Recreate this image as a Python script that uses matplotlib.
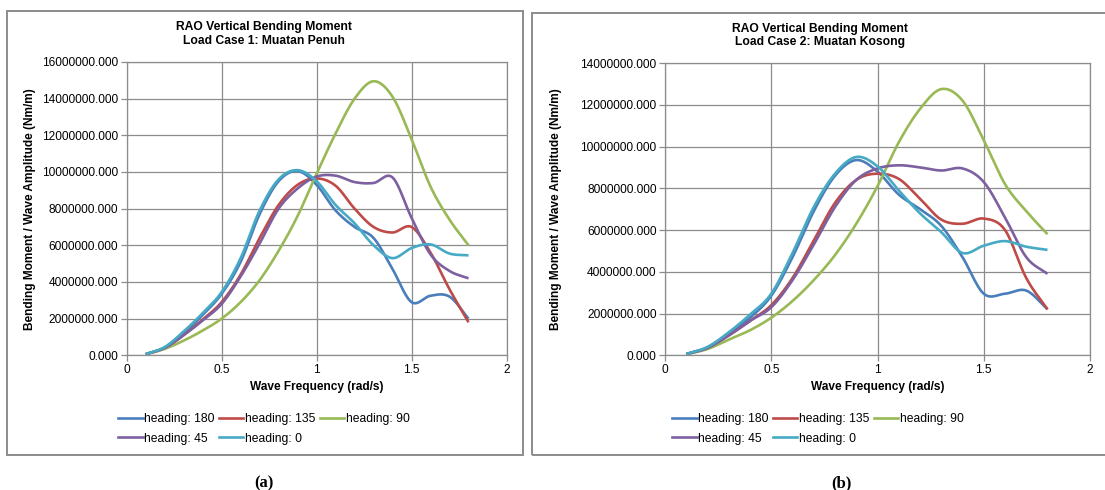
#RAO vertical bending moment, two load cases side by side
import matplotlib.pyplot as plt
from matplotlib.patches import Rectangle
from matplotlib.lines import Line2D
from matplotlib.ticker import FuncFormatter, MultipleLocator
import numpy as np

plt.rcParams['font.family'] = ['Liberation Sans', 'DejaVu Sans']

# wave frequency (rad/s)
freq = [0.1, 0.2, 0.3, 0.4, 0.5, 0.6, 0.7, 0.8, 0.9, 1.0,
        1.1, 1.2, 1.3, 1.4, 1.5, 1.6, 1.7, 1.8]

headings = ['heading: 180', 'heading: 135', 'heading: 90', 'heading: 45', 'heading: 0']
colors = ['#4A7EBB', '#BE4B48', '#98B954', '#7D60A0', '#46AAC5']

# load case 1 (millions Nm/m)
a_180 = [0.06, 0.42, 1.2, 2.2, 3.35, 5.1, 7.7, 9.5, 10.05, 9.3, 7.9, 7.0, 6.4, 4.7, 2.9, 3.25, 3.2, 2.0]
a_135 = [0.06, 0.4, 1.1, 1.95, 2.9, 4.4, 6.4, 8.2, 9.3, 9.65, 9.25, 8.0, 7.0, 6.7, 7.0, 5.6, 3.6, 1.8]
a_90 = [0.05, 0.35, 0.8, 1.35, 2.0, 2.9, 4.1, 5.7, 7.6, 9.9, 12.1, 14.0, 14.95, 14.1, 11.8, 9.2, 7.4, 6.0]
a_45 = [0.06, 0.4, 1.1, 1.9, 2.8, 4.3, 6.1, 8.0, 9.1, 9.75, 9.8, 9.45, 9.4, 9.7, 7.5, 5.5, 4.6, 4.2]
a_0 = [0.06, 0.45, 1.3, 2.3, 3.45, 5.3, 7.9, 9.6, 10.1, 9.5, 8.2, 7.2, 6.0, 5.3, 5.85, 6.05, 5.55, 5.45]

# load case 2 (millions Nm/m)
b_180 = [0.06, 0.38, 1.05, 1.8, 2.85, 4.7, 6.9, 8.6, 9.35, 8.8, 7.7, 7.0, 6.2, 4.7, 2.95, 2.95, 3.1, 2.2]
b_135 = [0.06, 0.36, 0.95, 1.65, 2.4, 3.7, 5.5, 7.3, 8.4, 8.7, 8.45, 7.5, 6.5, 6.3, 6.55, 6.0, 3.7, 2.2]
b_90 = [0.05, 0.3, 0.75, 1.2, 1.8, 2.6, 3.6, 4.8, 6.3, 8.1, 10.2, 11.8, 12.75, 12.2, 10.3, 8.2, 6.9, 5.8]
b_45 = [0.05, 0.35, 0.95, 1.65, 2.3, 3.6, 5.3, 7.1, 8.4, 8.95, 9.1, 9.0, 8.85, 8.95, 8.3, 6.6, 4.7, 3.9]
b_0 = [0.06, 0.4, 1.1, 1.95, 2.95, 4.9, 7.1, 8.7, 9.5, 9.05, 7.9, 6.8, 5.9, 4.9, 5.25, 5.47, 5.2, 5.05]

W, H = 1105, 490
GRAY = '#8c8c8c'


def fx(x):
    return x / W


def fy(y):
    return 1 - y / H


# catmull-rom smoothing, like the excel smoothed line
def smooth(x, y, n=16):
    x = np.asarray(x, float)
    y = np.asarray(y, float)
    px = np.concatenate([[2 * x[0] - x[1]], x, [2 * x[-1] - x[-2]]])
    py = np.concatenate([[2 * y[0] - y[1]], y, [2 * y[-1] - y[-2]]])
    t = np.linspace(0, 1, n, endpoint=False)
    xs, ys = [], []
    for i in range(1, len(px) - 2):
        for p, out in ((px, xs), (py, ys)):
            p0, p1, p2, p3 = p[i - 1], p[i], p[i + 1], p[i + 2]
            out.extend(0.5 * (2 * p1 + (-p0 + p2) * t + (2 * p0 - 5 * p1 + 4 * p2 - p3) * t ** 2
                              + (-p0 + 3 * p1 - 3 * p2 + p3) * t ** 3))
    xs.append(x[-1])
    ys.append(y[-1])
    return np.array(xs), np.array(ys)


# draw one panel
# @param rect axes rect in pixels (left, top, right, bottom)
def panel(fig, rect, series, ymax, title, box, title_xy, legend_xy, tag_xy, tag):
    l, t, r, b = rect
    ax = fig.add_axes([fx(l), fy(b), fx(r - l), (b - t) / H])
    for vals, col in zip(series, colors):
        xs, ys = smooth(freq, vals)
        ax.plot(xs, ys * 1e6, color=col, lw=1.9, solid_capstyle='butt')
    ax.set_xlim(0, 2)
    ax.set_ylim(0, ymax)
    ax.xaxis.set_major_locator(MultipleLocator(0.5))
    ax.yaxis.set_major_locator(MultipleLocator(2e6))
    ax.xaxis.set_major_formatter(FuncFormatter(lambda v, p: '%g' % v))
    ax.yaxis.set_major_formatter(FuncFormatter(lambda v, p: '%.3f' % v))
    ax.grid(True, color=GRAY, lw=0.9)
    ax.set_axisbelow(True)
    for s in ax.spines.values():
        s.set_color(GRAY)
        s.set_linewidth(0.9)
    ax.tick_params(direction='out', length=4, width=0.9, color=GRAY, labelsize=8.6, pad=2)

    ax.set_xlabel('Wave Frequency (rad/s)', fontsize=8.6, fontweight='bold')
    ax.xaxis.set_label_coords(0.5, -(387 - b) / (b - t))
    ax.xaxis.label.set_va('center')
    ax.set_ylabel('Bending Moment / Wave Amplitude (Nm/m)', fontsize=8.6, fontweight='bold')
    ax.yaxis.set_label_coords(-(l - title_xy[2]) / (r - l), 0.5)
    ax.yaxis.label.set_va('center')

    fig.text(fx(title_xy[0]), fy(title_xy[1]), title, ha='center', va='center',
             fontsize=8.7, fontweight='bold', linespacing=1.2)

    # excel-style legend, filled row by row
    order = [0, 3, 1, 4, 2]
    handles = [Line2D([], [], color=colors[i], lw=1.9) for i in order]
    ax.legend(handles, [headings[i] for i in order], loc='center',
              bbox_to_anchor=(fx(legend_xy[0]), fy(legend_xy[1])), bbox_transform=fig.transFigure,
              ncol=3, frameon=False, fontsize=8.7, handlelength=2.0, handletextpad=0.12,
              columnspacing=0.4, labelspacing=0.6, borderpad=0, borderaxespad=0)

    bl, bt, br, bb = box
    fig.add_artist(Rectangle((fx(bl), fy(bb)), fx(br - bl), (bb - bt) / H,
                             transform=fig.transFigure, fill=False, ec=GRAY, lw=1.4))
    fig.text(fx(tag_xy[0]), fy(tag_xy[1]), tag, ha='center', va='center',
             fontsize=12, fontweight='bold', family='Liberation Serif')
    return ax


fig = plt.figure(figsize=(W / 100, H / 100), dpi=100)

panel(fig, (126.7, 62, 506.5, 355.3), [a_180, a_135, a_90, a_45, a_0], 16e6,
      'RAO Vertical Bending Moment\nLoad Case 1: Muatan Penuh',
      (7, 11, 523, 455), (264, 34, 30), (264, 429), (264, 483), '(a)')
panel(fig, (665, 63, 1090, 355.3), [b_180, b_135, b_90, b_45, b_0], 14e6,
      'RAO Vertical Bending Moment\nLoad Case 2: Muatan Kosong',
      (532, 13, 1110, 455), (820, 35.5, 556), (818, 429), (841, 483), '(b)')

plt.savefig('out.png', dpi=100)
